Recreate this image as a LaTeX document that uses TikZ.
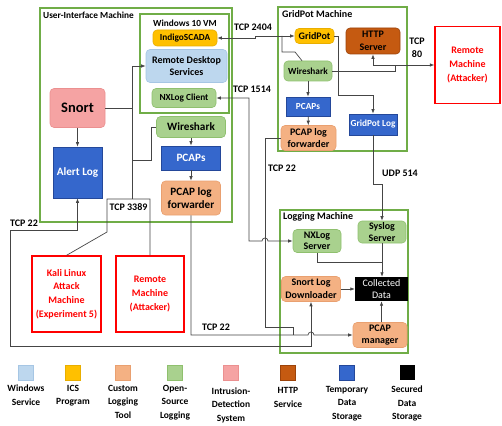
\documentclass[tikz,border=0pt]{standalone}
\usepackage{fontspec}
\setmainfont{Carlito}
\usetikzlibrary{arrows.meta}
\definecolor{mgreen}{HTML}{70AD47}
\definecolor{lgreen}{HTML}{A9D18E}
\definecolor{lgreenb}{HTML}{8FC06E}
\definecolor{lblue}{HTML}{BDD7EE}
\definecolor{lblueb}{HTML}{A6C6E4}
\definecolor{ics}{HTML}{FFC000}
\definecolor{icsb}{HTML}{E8AE00}
\definecolor{orng}{HTML}{F4B183}
\definecolor{orngb}{HTML}{E9A070}
\definecolor{pinkc}{HTML}{F5A3A3}
\definecolor{pinkb}{HTML}{EB9090}
\definecolor{httpc}{HTML}{C55A11}
\definecolor{httpb}{HTML}{9C430A}
\definecolor{tblue}{HTML}{3567CC}
\definecolor{tblueb}{HTML}{24489A}
\definecolor{lne}{HTML}{454545}
\begin{document}
\begin{tikzpicture}[x=1pt,y=-1pt,
  every node/.style={inner sep=0pt, align=center},
  >={Latex[length=4.5pt,width=3.5pt]},
  fa/.style={font=\fontsize{9.3}{10.5}\selectfont\bfseries},
  fb/.style={font=\fontsize{10}{12.5}\selectfont\bfseries},
  fc/.style={font=\fontsize{11.2}{13.5}\selectfont\bfseries},
  machine/.style={draw=mgreen, line width=1.3pt},
  redbox/.style={draw=red, line width=1.3pt, text=red, font=\fontsize{10}{13.8}\selectfont\bfseries},
  rbox/.style={rounded corners=4pt, line width=0.6pt},
  greenbox/.style={rbox, fill=lgreen, draw=lgreenb},
  orangebox/.style={rbox, fill=orng, draw=orngb},
  bluebox/.style={fill=tblue, draw=tblueb, line width=0.8pt, text=white},
  conn/.style={draw=lne, line width=0.7pt},
  lab/.style={font=\fontsize{10}{12.5}\selectfont\bfseries},
  leg/.style={font=\fontsize{9.5}{13.5}\selectfont\bfseries, anchor=north},
  legsq/.style={minimum size=15pt, line width=0.6pt}
]
\useasboundingbox (0,0) rectangle (502,425);

% machines
\node[machine, minimum width=192pt, minimum height=214pt] (ui) at (136,115) {};
\node[fa, anchor=west] (uit) at (43,15) {User-Interface Machine};
\node[machine, minimum width=89pt, minimum height=99pt] (win) at (184.5,63.5) {};
\node[fa] (wint) at (185,23) {Windows 10 VM};
\node[machine, minimum width=129pt, minimum height=144pt] (gpm) at (342.5,79) {};
\node[fb, anchor=west] (gpt) at (282,14.5) {GridPot Machine};
\node[machine, minimum width=128pt, minimum height=143pt] (lgm) at (344,281.5) {};
\node[fb, anchor=west] (lgt) at (283,216.5) {Logging Machine};

% UI machine nodes
\node[fa, rbox, fill=ics, draw=icsb, minimum width=64pt, minimum height=16pt] (indigo) at (185,38) {IndigoSCADA};
\node[fb, rbox, fill=lblue, draw=lblueb, minimum width=81pt, minimum height=33pt] (rds) at (186.5,66) {Remote Desktop\\Services};
\node[fa, greenbox, minimum width=64pt, minimum height=19pt] (nxc) at (184,98) {NXLog Client};
\node[rbox, fill=pinkc, draw=pinkb, minimum width=55pt, minimum height=39pt, font=\fontsize{14.5}{16}\selectfont\bfseries] (snort) at (77.5,108) {Snort};
\node[fc, bluebox, minimum width=49pt, minimum height=51pt] (alert) at (77.5,172.5) {Alert Log};
\node[fc, greenbox, minimum width=69pt, minimum height=21pt] (wsui) at (191,127) {Wireshark};
\node[fc, bluebox, minimum width=59pt, minimum height=24pt] (pcui) at (191,158) {PCAPs};
\node[fc, orangebox, minimum width=59pt, minimum height=34pt] (fwui) at (191,198) {PCAP log\\forwarder};

% GridPot machine nodes
\node[fb, rbox, fill=ics, draw=icsb, minimum width=39pt, minimum height=15pt] (gp) at (314.5,36) {GridPot};
\node[fb, rbox, fill=httpc, draw=httpb, minimum width=54pt, minimum height=26pt] (http) at (373,41) {HTTP\\Server};
\node[fa, greenbox, minimum width=48pt, minimum height=20pt] (wsgp) at (308,71) {Wireshark};
\node[fa, bluebox, minimum width=44pt, minimum height=19pt] (pcgp) at (308,106.5) {PCAPs};
\node[fb, orangebox, minimum width=55pt, minimum height=25pt, font=\fontsize{10}{11.5}\selectfont\bfseries] (fwgp) at (308.5,138) {PCAP log\\forwarder};
\node[fa, bluebox, minimum width=48pt, minimum height=21pt] (gplog) at (373,124.5) {GridPot Log};

% Logging machine nodes
\node[fb, greenbox, minimum width=48pt, minimum height=23pt, font=\fontsize{10}{11.5}\selectfont\bfseries] (nxs) at (317,241) {NXLog\\Server};
\node[fb, greenbox, minimum width=48pt, minimum height=22pt, font=\fontsize{10}{11.5}\selectfont\bfseries] (syslog) at (382,232) {Syslog\\Server};
\node[fb, orangebox, minimum width=59pt, minimum height=25pt, font=\fontsize{10}{12.5}\selectfont\bfseries] (sld) at (311,289) {Snort Log\\Downloader};
\node[fill=black, text=white, minimum width=53pt, minimum height=24pt, font=\fontsize{10}{12.5}\selectfont] (cdata) at (381.5,289) {Collected\\Data};
\node[fb, orangebox, minimum width=54pt, minimum height=25pt, font=\fontsize{10}{12.5}\selectfont\bfseries] (pcapm) at (380,335) {PCAP\\manager};

% attacker machines
\node[redbox, minimum width=65pt, minimum height=77pt] (rmt) at (467.5,65) {Remote\\Machine\\(Attacker)};
\node[redbox, minimum width=69pt, minimum height=76pt] (kali) at (66.5,294) {Kali Linux\\Attack\\Machine\\(Experiment 5)};
\node[redbox, minimum width=68pt, minimum height=76pt] (rma) at (150,294) {Remote\\Machine\\(Attacker)};

% connectors - UI machine
\draw[conn,->] (snort) -- (alert);
\draw[conn,->] (wsui) -- (pcui);
\draw[conn,->] (pcui) -- (fwui);
\draw[conn] (snort.east) -- (132,108);
\draw[conn,->] (132,199) -- (132,66) -- (rds.west);
\draw[conn] (wsui.west) -- (151,127) -- (151,160) -- (132,160);
\draw[conn] (kali.north) -- (107,232) -- (107,199) -- (150,199) -- (rma.north);

% TCP 2404
\draw[conn,<->] (indigo.east) -- (255,38) -- (255,36) -- (gp.west);
\draw[conn] (282,36) -- (282,52) -- (295,52) -- ([xshift=-6pt]wsgp.north);

% GridPot internal
\draw[conn,->] (gp.east) -- (338,36) -- (338,95) -- (373,95) -- (gplog.north);
\draw[conn,->] (wsgp) -- (pcgp);
\draw[conn,->] (pcgp) -- (fwgp);
\draw[conn,<->] (http.south) -- (373,65) -- (rmt.west);
\draw[conn] (wsgp.east) -- (395,71) -- (395,65);

% UDP 514
\draw[conn,->] (gplog.south) -- (373,184) -- (382,184) -- (syslog.north);

% TCP 1514
\draw[conn,<->] (nxc.east) -- (249,98) -- (249,241) -- (262,241) arc[start angle=180, end angle=0, radius=3pt] -- (nxs.west);

% TCP 22 GridPot forwarder
\draw[conn] (fwgp.west) -- (265,138) -- (265,327) -- (293,327) -- (293,335);

% TCP 22 UI forwarder
\draw[conn,->] (fwui.south) -- (191,335) -- (308,335) arc[start angle=180, end angle=0, radius=3pt] -- (pcapm.west);

% TCP 22 alert log
\draw[conn,<->] (alert.south) -- (77.5,230) -- (10,230) -- (10,346) -- (311,346) -- (sld.south);

% Logging machine
\draw[conn,->] (syslog.south) -- (cdata.north -| syslog.south);
\draw[conn] (nxs.south) -- (317,262) -- (382,262);
\draw[conn,->] (sld.east) -- (cdata.west);
\draw[conn,->] (pcapm.north -| cdata.south) -- (cdata.south);

% labels
\node[lab] (l2404) at (253,27) {TCP 2404};
\node[lab] (l1514) at (252,89) {TCP 1514};
\node[lab] (l80) at (417,48) {TCP\\80};
\node[lab] (l22gp) at (282,168) {TCP 22};
\node[lab] (l514) at (400,173) {UDP 514};
\node[lab] (l3389) at (128.5,207) {TCP 3389};
\node[lab] (l22a) at (24,223) {TCP 22};
\node[lab] (l22b) at (216,327) {TCP 22};

% legend
\node[legsq, fill=lblue, draw=lblueb] (s1) at (26,372.5) {};
\node[legsq, fill=ics, draw=icsb] (s2) at (73,372.5) {};
\node[legsq, fill=orng, draw=orngb] (s3) at (123,372.5) {};
\node[legsq, fill=lgreen, draw=lgreenb] (s4) at (175,372.5) {};
\node[legsq, fill=pinkc, draw=pinkb] (s5) at (231,372.5) {};
\node[legsq, fill=httpc, draw=httpb] (s6) at (288,372.5) {};
\node[legsq, fill=tblue, draw=tblueb] (s7) at (347,372.5) {};
\node[legsq, fill=black] (s8) at (407,372.5) {};
\node[leg] (t1) at (26,385) {Windows\\Service};
\node[leg] (t2) at (73,385) {ICS\\Program};
\node[leg] (t3) at (123,385) {Custom\\Logging\\Tool};
\node[leg] (t4) at (175,385) {Open-\\Source\\Logging};
\node[leg] (t5) at (231,387.5) {Intrusion-\\Detection\\System};
\node[leg] (t6) at (288,387.5) {HTTP\\Service};
\node[leg] (t7) at (347,386) {Temporary\\Data\\Storage};
\node[leg] (t8) at (407,386) {Secured\\Data\\Storage};
\end{tikzpicture}
\end{document}
